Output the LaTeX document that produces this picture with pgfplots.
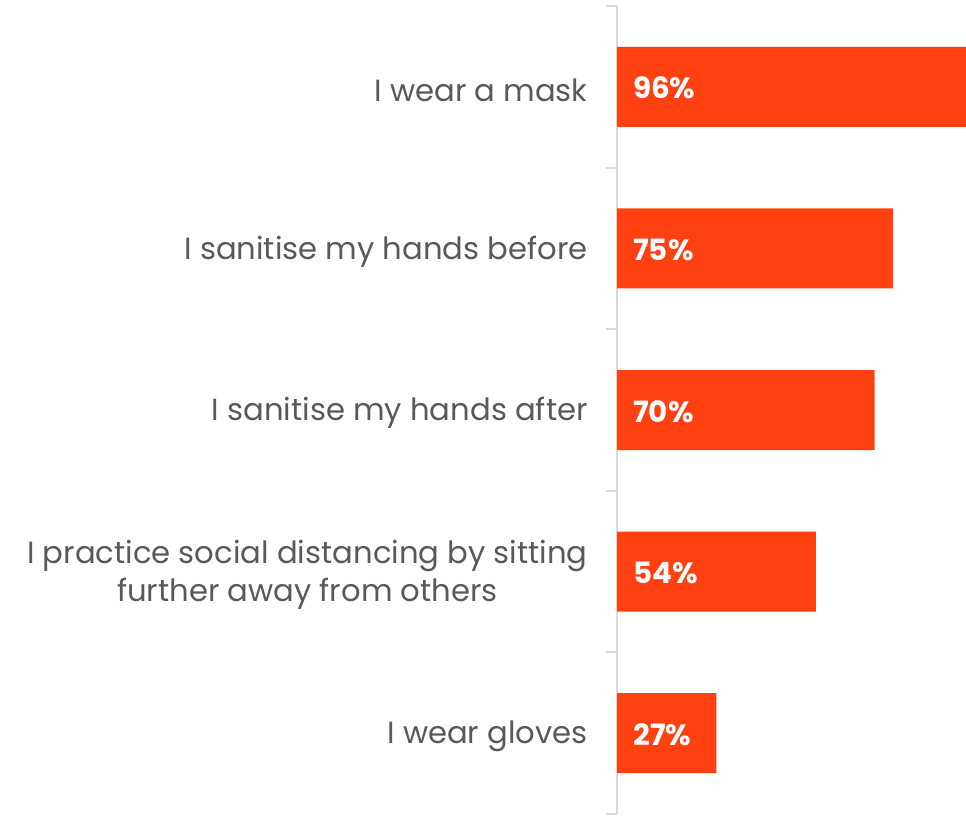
\documentclass[border=0pt]{standalone}
\usepackage{pgfplots}
\pgfplotsset{compat=1.18}
\usepackage{pgfplotstable}
\usepackage{fontspec}
\setmainfont{Poppins}
\definecolor{barred}{RGB}{255,64,16}
\definecolor{labgray}{RGB}{89,89,89}
\definecolor{axgray}{RGB}{217,217,217}
\pgfplotstableread{
y val
0 96
1 75
2 70
3 54
4 27
}\datatable
\begin{document}
\begin{tikzpicture}[x=1pt,y=1pt]
\begin{axis}[
  at={(462.75pt,0.75pt)}, anchor=south west,
  scale only axis,
  width=261.75pt, height=606pt,
  xmin=0, xmax=94.8,
  ymin=-0.5, ymax=4.5,
  y dir=reverse,
  axis x line=none,
  axis y line*=left,
  axis line style={axgray, line width=1.5pt},
  ytick={0,1,2,3,4},
  yticklabels={{I wear a mask},{I sanitise my hands before},{I sanitise my hands after},{I practice social distancing by sitting\\further away from others},{I wear gloves}},
  major tick length=0pt,
  yticklabel style={anchor=east, inner sep=0pt, xshift=-21.75pt, yshift=-2.25pt, align=center, text=labgray, font={\fontsize{23pt}{28.5pt}\selectfont}},
  extra y ticks={-0.5,0.5,1.5,2.5,3.5,4.5},
  extra y tick labels={},
  extra y tick style={major tick length=8.25pt, tick align=outside, tick style={axgray, line width=1.5pt}},
]
\addplot[xbar, bar width=60pt, bar shift=0pt, fill=barred, draw=none] table[x=val, y=y] {\datatable};
\addplot[only marks, mark=none, point meta=explicit, nodes near coords={\pgfmathprintnumber[assume math mode=true]{\pgfplotspointmeta}\%},
  nodes near coords style={anchor=west, xshift=12pt, yshift=-1pt, text=white, inner sep=0pt, font={\bfseries\fontsize{22pt}{24pt}\selectfont}}]
  table[x expr=0, y=y, meta=val] {\datatable};
\end{axis}
\pgfresetboundingbox
\path[use as bounding box] (0,0) rectangle (724.5pt,611.25pt);
\end{tikzpicture}
\end{document}
